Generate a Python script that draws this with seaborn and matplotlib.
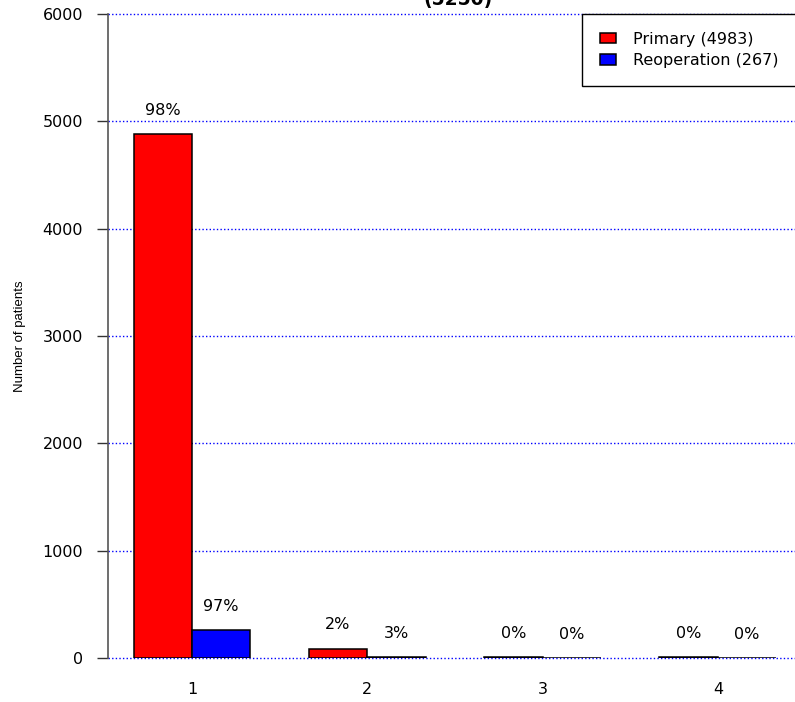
import seaborn as sns
import matplotlib.pyplot as plt
import pandas as pd

categories = ['1', '2', '3', '4']
primary = [4879, 88, 10, 6]
reoperation = [259, 7, 1, 0]

lab_p = 'Primary (%d)' % sum(primary)
lab_r = 'Reoperation (%d)' % sum(reoperation)
total = sum(primary) + sum(reoperation)

df = pd.DataFrame({
    'group': categories * 2,
    'count': primary + reoperation,
    'type': [lab_p] * 4 + [lab_r] * 4,
})

sns.set_style('white')
plt.rcParams['font.family'] = ['DejaVu Sans']
plt.rcParams['text.color'] = 'black'
plt.rcParams['axes.labelcolor'] = 'black'
plt.rcParams['xtick.color'] = 'black'
plt.rcParams['ytick.color'] = 'black'

fig = plt.figure(figsize=(7.95, 7.02), dpi=100)
ax = fig.add_axes([108 / 795, 1 - 658 / 702, 1 - 108 / 795, (658 - 14) / 702])

ax.yaxis.grid(True, linestyle=(0, (1, 1.6)), color='blue', linewidth=1.0)
ax.set_axisbelow(True)

sns.barplot(data=df, x='group', y='count', hue='type', ax=ax,
            palette={lab_p: 'red', lab_r: 'blue'}, width=0.667,
            edgecolor='black', linewidth=1.1, saturation=1)

# percentage labels above each bar
for cont, vals in zip(ax.containers, [primary, reoperation]):
    s = sum(vals)
    for bar, v in zip(cont, vals):
        ax.annotate('%d%%' % round(100 * v / s),
                    (bar.get_x() + bar.get_width() / 2, bar.get_height()),
                    ha='center', va='center', xytext=(0, 17),
                    textcoords='offset points', fontsize=11.5)

ax.set_ylim(0, 6000)
ax.set_xlim(-0.479, 3.44)
ax.set_yticks(range(0, 6001, 1000))
ax.set_xlabel('')
ax.set_ylabel('Number of patients', fontsize=9.5, family='Liberation Sans')
ax.yaxis.set_label_coords(-82 / 687, 0.5)
ax.tick_params(axis='y', left=True, length=8, width=1, color='#333333',
               labelsize=11.5, pad=10)
ax.tick_params(axis='x', length=0, labelsize=11.5, pad=17)
for gl in ax.get_ygridlines():
    gl.set_clip_on(False)

for side in ['top', 'right', 'bottom']:
    ax.spines[side].set_visible(False)
ax.spines['left'].set_color('#555555')
ax.spines['left'].set_linewidth(1.2)

leg = ax.legend(loc='upper left', bbox_to_anchor=((582 - 108) / 687, 0, 0.33, 1.0),
                mode='expand', borderaxespad=0,
                fontsize=11.5, frameon=True, fancybox=False, edgecolor='black',
                handlelength=1.0, handleheight=0.65, borderpad=1.1,
                labelspacing=0.42, handletextpad=1.1)
leg.get_frame().set_linewidth(1)
leg.get_frame().set_alpha(1)

fig.text(458 / 795, 1 - 5 / 702, '(%d)' % total, ha='center', va='baseline',
         fontsize=13.5, fontweight='bold')

fig.savefig('out.png', dpi=100)
